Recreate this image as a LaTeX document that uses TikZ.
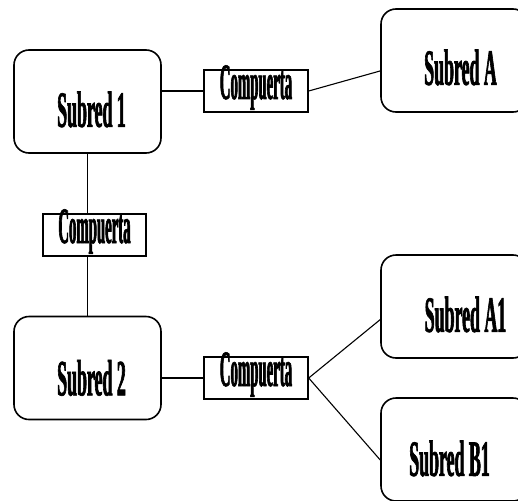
\documentclass[tikz,border=0pt]{standalone}
\usepackage{fontspec}
\usepackage{tikz}
\usetikzlibrary{calc}
\newfontfamily\condfont[FakeStretch=0.35,FakeBold=1.2]{Liberation Serif}
\newfontfamily\gatefont[FakeStretch=0.29,FakeBold=1.2]{Liberation Serif}

\begin{document}
\begin{tikzpicture}[x=1pt,y=-1pt,
	subnet/.style={draw,line width=1.6pt,rounded corners=15pt,minimum width=147pt,minimum height=103pt},
	gate/.style={draw,line width=1.4pt,minimum width=104pt,inner sep=0pt,text height=29pt,text depth=13pt,font=\gatefont\bfseries\fontsize{51}{53}\selectfont},
	lbl/.style={font=\condfont\bfseries\fontsize{51}{53}\selectfont},
	link/.style={line width=1.1pt}]
		\useasboundingbox (0,0) rectangle (518,500); %画布
		\node [subnet,label={[lbl,xshift=4pt,yshift=-8pt]center:Subred 1}] (s1) at (87.5,101.5) {}; %子网1
		\node [subnet,label={[lbl,xshift=6pt,yshift=-7pt]center:Subred A}] (sA) at (454.5,60.5) {}; %子网A
		\node [subnet,label={[lbl,xshift=4pt,yshift=-10pt]center:Subred 2}] (s2) at (87.5,368) {}; %子网2
		\node [subnet,label={[lbl,xshift=11pt,yshift=-8pt]center:Subred A1}] (sA1) at (454.5,306.5) {}; %子网A1
		\node [subnet,label={[lbl,xshift=-5pt,yshift=-9pt]center:Subred B1}] (sB1) at (454.5,449.5) {}; %子网B1
		\node [gate] (g1) at (256,91) {Compuerta}; %网关1
		\node [gate,minimum width=103pt] (g2) at (94.5,235) {Compuerta}; %网关2
		\node [gate] (g3) at (256,378) {Compuerta}; %网关3
		\draw [link] (g1.west) -- (g1.west -| s1.east); %连线
		\draw [link] (g1.east) -- (sA.188);
		\draw [link] (s1.south) -- (s1.south |- g2.north);
		\draw [link] (s2.north) -- (s2.north |- g2.south);
		\draw [link] (g3.west) -- (g3.west -| s2.east);
		\draw [link] (g3.east) -- (sA1.190);
		\draw [link] (g3.east) -- (sB1.188);
	\end{tikzpicture}
\end{document}
